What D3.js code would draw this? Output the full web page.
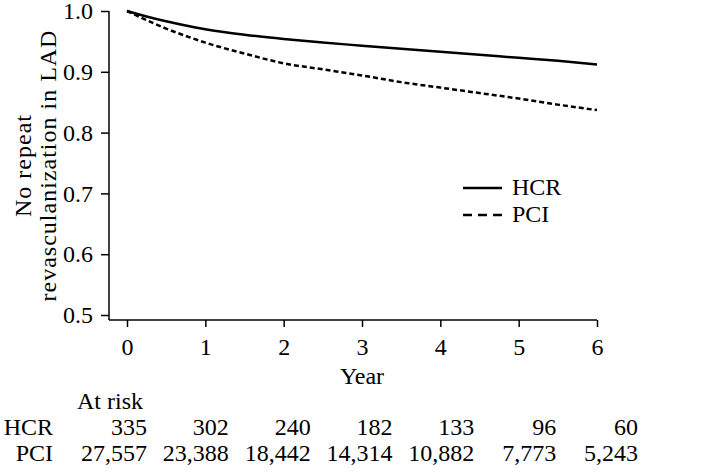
<!DOCTYPE html>
<html>
<head>
<meta charset="utf-8">
<script src="https://cdn.jsdelivr.net/npm/d3@7"></script>
<style>
  body { margin: 0; background: #fff; }
  svg text { font-family: "Liberation Serif", serif; fill: #000; }
</style>
</head>
<body>
<svg id="chart"></svg>
<script>
const width = 708;
const height = 474;

// survival curves
const years = [0, 0.25, 0.5, 0.75, 1, 1.5, 2, 2.5, 3, 3.5, 4, 4.5, 5, 5.5, 6];
const hcr = [1.0, 0.991, 0.983, 0.976, 0.970, 0.961, 0.954, 0.948, 0.943, 0.938, 0.933, 0.928, 0.923, 0.918, 0.912];
const pci = [1.0, 0.985, 0.971, 0.959, 0.948, 0.930, 0.914, 0.904, 0.894, 0.883, 0.874, 0.865, 0.856, 0.846, 0.837];

const groups = ['HCR', 'PCI'];
const yTicks = [0.5, 0.6, 0.7, 0.8, 0.9, 1.0];
const xTicks = [0, 1, 2, 3, 4, 5, 6];
const riskHCR = ['335', '302', '240', '182', '133', '96', '60'];
const riskPCI = ['27,557', '23,388', '18,442', '14,314', '10,882', '7,773', '5,243'];

const axisX = 109;    // y axis position
const axisY = 320;    // x axis position

const svg = d3.select('#chart')
  .attr('width', width)
  .attr('height', height);

const x = d3.scaleLinear().domain([0, 6]).range([127, 597]);
const y = d3.scaleLinear().domain([0.5, 1]).range([315, 11]);

// y axis
const gy = svg.append('g')
  .attr('transform', `translate(${axisX},0)`)
  .call(d3.axisLeft(y).tickValues(yTicks).tickFormat(d3.format('.1f')).tickSize(8).tickPadding(8));
gy.select('.domain').remove();
gy.append('line')
  .attr('x1', 0).attr('x2', 0)
  .attr('y1', y(1)).attr('y2', axisY)
  .attr('stroke', '#000').attr('stroke-width', 1.5);

// x axis
const gx = svg.append('g')
  .attr('transform', `translate(0,${axisY})`)
  .call(d3.axisBottom(x).tickValues(xTicks).tickFormat(d3.format('d')).tickSize(7).tickPadding(11));
gx.select('.domain').remove();
gx.append('line')
  .attr('x1', axisX).attr('x2', x(6))
  .attr('y1', 0).attr('y2', 0)
  .attr('stroke', '#000').attr('stroke-width', 1.5);

svg.selectAll('.tick line').attr('stroke', '#000').attr('stroke-width', 1.5);
svg.selectAll('.tick text')
  .style('font-family', '"Liberation Serif", serif')
  .style('font-size', '24px')
  .attr('fill', '#000');

// axis titles
svg.append('text')
  .attr('x', x(3)).attr('y', 384)
  .attr('text-anchor', 'middle')
  .style('font-size', '24px')
  .text('Year');

const ylab = svg.append('text')
  .attr('transform', `translate(0,${(y(1) + axisY) / 2}) rotate(-90)`)
  .attr('text-anchor', 'middle')
  .style('font-size', '24px')
  .style('letter-spacing', '1px');
ylab.append('tspan').attr('x', 0).attr('y', 31).text('No repeat');
ylab.append('tspan').attr('x', 0).attr('y', 56).text('revasculanization in LAD');

// curves
const line = d3.line()
  .x((d, i) => x(years[i]))
  .y(d => y(d))
  .curve(d3.curveMonotoneX);

svg.append('path')
  .datum(hcr)
  .attr('d', line)
  .attr('fill', 'none')
  .attr('stroke', '#000')
  .attr('stroke-width', 2.5);

svg.append('path')
  .datum(pci)
  .attr('d', line)
  .attr('fill', 'none')
  .attr('stroke', '#000')
  .attr('stroke-width', 2.5)
  .attr('stroke-dasharray', '5,3');

// legend
const legend = svg.append('g').attr('transform', 'translate(463,188)');
groups.forEach((g, i) => {
  const row = legend.append('g').attr('transform', `translate(0,${i * 27})`);
  row.append('line')
    .attr('x1', 0).attr('x2', 39)
    .attr('y1', 0).attr('y2', 0)
    .attr('stroke', '#000')
    .attr('stroke-width', 2.5)
    .attr('stroke-dasharray', i ? '9,6' : null);
  row.append('text')
    .attr('x', 49).attr('y', 7)
    .style('font-size', '24px')
    .text(g);
});

// number at risk
const col = d3.scaleLinear().domain([0, 6]).range([147, 638]);

svg.append('text')
  .attr('x', 77).attr('y', 409)
  .style('font-size', '24px')
  .text('At risk');

[[groups[0], riskHCR, 435], [groups[1], riskPCI, 461]].forEach(([name, vals, yy]) => {
  svg.append('text')
    .attr('x', 53).attr('y', yy)
    .attr('text-anchor', 'end')
    .style('font-size', '24px')
    .text(name);
  svg.append('g').selectAll('text')
    .data(vals)
    .enter().append('text')
    .attr('x', (d, i) => col(i))
    .attr('y', yy)
    .attr('text-anchor', 'end')
    .style('font-size', '24px')
    .text(d => d);
});
</script>
</body>
</html>
